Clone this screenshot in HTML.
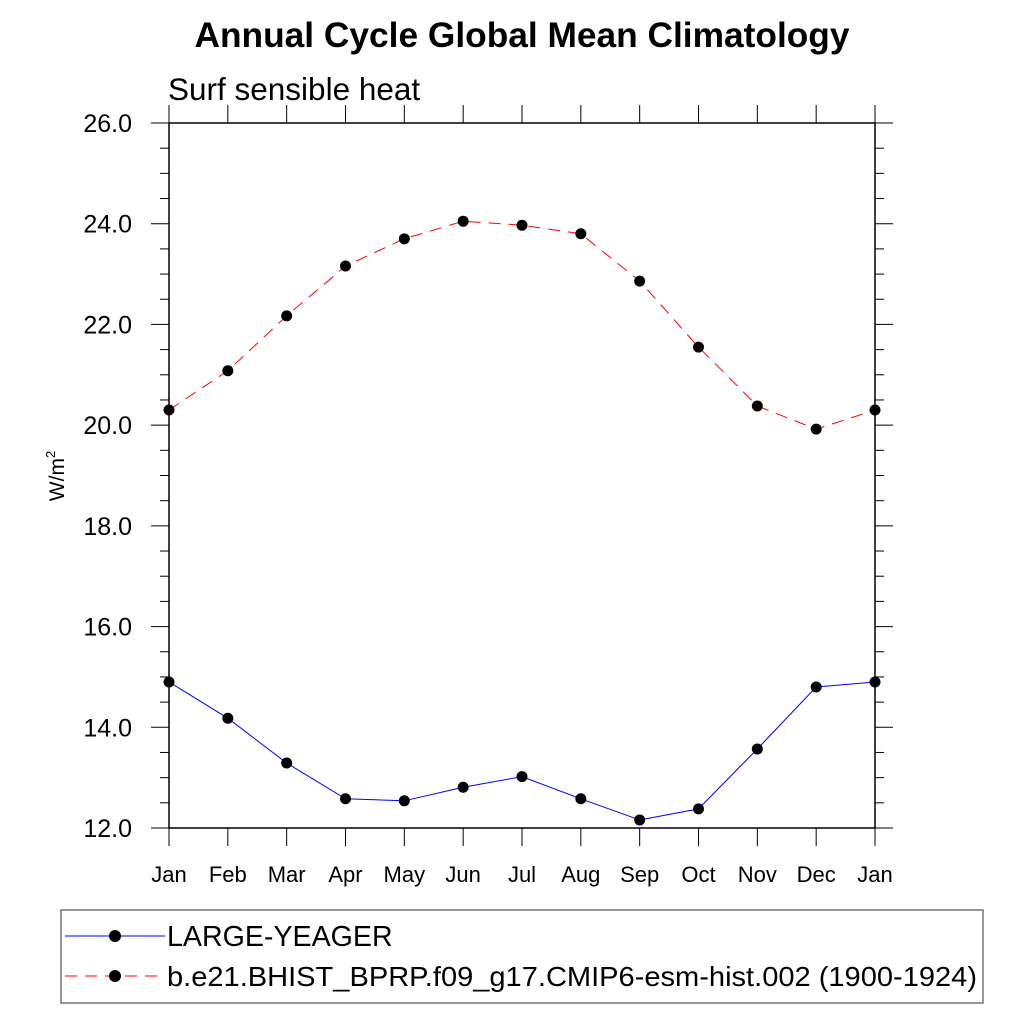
<!DOCTYPE html>
<html><head><meta charset="utf-8"><style>
body{margin:0;background:#fff;}
svg text{font-family:"Liberation Sans",sans-serif;}
</style></head><body>
<svg id="chart" width="1024" height="1024" viewBox="0 0 1024 1024" xmlns="http://www.w3.org/2000/svg">
<text x="522" y="47" font-size="35" font-weight="bold" text-anchor="middle" textLength="655" lengthAdjust="spacingAndGlyphs">Annual Cycle Global Mean Climatology</text>
<text x="168" y="100" font-size="31.5">Surf sensible heat</text>
<text transform="translate(64,476) rotate(-90)" font-size="21" text-anchor="middle">W/m<tspan dy="-9" font-size="13">2</tspan></text>
<g id="axes"></g>
<g id="series"></g>
<g>
<rect x="61" y="910" width="922" height="93" fill="#fff" stroke="#777" stroke-width="1.5"/>
<line x1="65" y1="936" x2="165" y2="936" stroke="#00f" stroke-width="1"/>
<circle cx="115" cy="936" r="6" fill="#000"/>
<text x="167" y="946" font-size="28.6">LARGE-YEAGER</text>
<line x1="65" y1="976" x2="165" y2="976" stroke="#f00" stroke-width="1" stroke-dasharray="12,8"/>
<circle cx="115" cy="976" r="6" fill="#000"/>
<text x="167" y="986" font-size="28" textLength="810" lengthAdjust="spacingAndGlyphs">b.e21.BHIST_BPRP.f09_g17.CMIP6-esm-hist.002 (1900-1924)</text>
</g>
</svg>
<script>
const months = ["Jan","Feb","Mar","Apr","May","Jun","Jul","Aug","Sep","Oct","Nov","Dec","Jan"];
const largeYeager = [14.90,14.18,13.29,12.58,12.54,12.81,13.02,12.58,12.16,12.38,13.57,14.80,14.90];
const bhist = [20.30,21.08,22.17,23.16,23.70,24.05,23.97,23.80,22.86,21.55,20.38,19.92,20.30];
const yTicks = [12,14,16,18,20,22,24,26];

const NS="http://www.w3.org/2000/svg";
const L=169,R=875,T=123,B=828,YMIN=12,YMAX=26;
const xs=i=>L+(R-L)*i/(months.length-1);
const ys=v=>B-(v-YMIN)/(YMAX-YMIN)*(B-T);
const axes=document.getElementById('axes'), series=document.getElementById('series');
function mk(tag,attrs,parent){const e=document.createElementNS(NS,tag);for(const k in attrs)e.setAttribute(k,attrs[k]);parent.appendChild(e);return e;}

const frame=mk('rect',{x:L,y:T,width:R-L,height:B-T,fill:'none',stroke:'#000','stroke-width':1.5},axes);


for(let v=YMIN;v<=YMAX+1e-9;v+=0.5){
  const major=Math.abs(v-Math.round(v/2)*2)<1e-9;
  const len=major?18:9;
  const y=ys(v);
  const t1=mk('line',{x1:L-len,y1:y,x2:L,y2:y,stroke:'#000','stroke-width':1},axes);
  
  
  const t2=mk('line',{x1:R,y1:y,x2:R+len,y2:y,stroke:'#000','stroke-width':1},axes);
  
  
}
yTicks.forEach(v=>{
  const t=mk('text',{x:L-37,y:ys(v)+9,'font-size':25,'text-anchor':'end'},axes);
  t.textContent=v.toFixed(1);
  
  
});
months.forEach((m,i)=>{
  const x=xs(i);
  const a=mk('line',{x1:x,y1:B,x2:x,y2:B+18,stroke:'#000','stroke-width':1},axes);
  
  
  const b=mk('line',{x1:x,y1:T-18,x2:x,y2:T,stroke:'#000','stroke-width':1},axes);
  
  
  const t=mk('text',{x:x,y:882,'font-size':22,'text-anchor':'middle'},axes);
  t.textContent=m;
  
  
});
function draw(vals,color,dash,name){
  const pts=vals.map((v,i)=>xs(i)+','+ys(v)).join(' ');
  const pl=mk('polyline',{points:pts,fill:'none',stroke:color,'stroke-width':1,'stroke-dasharray':dash},series);
  
  
  vals.forEach((v,i)=>{
    const c=mk('circle',{cx:xs(i),cy:ys(v),r:5.5,fill:'#000'},series);
    
    
  });
}
draw(bhist,'#f00','12,8','bhist');
draw(largeYeager,'#00f','none','large-yeager');
</script>
</body></html>
